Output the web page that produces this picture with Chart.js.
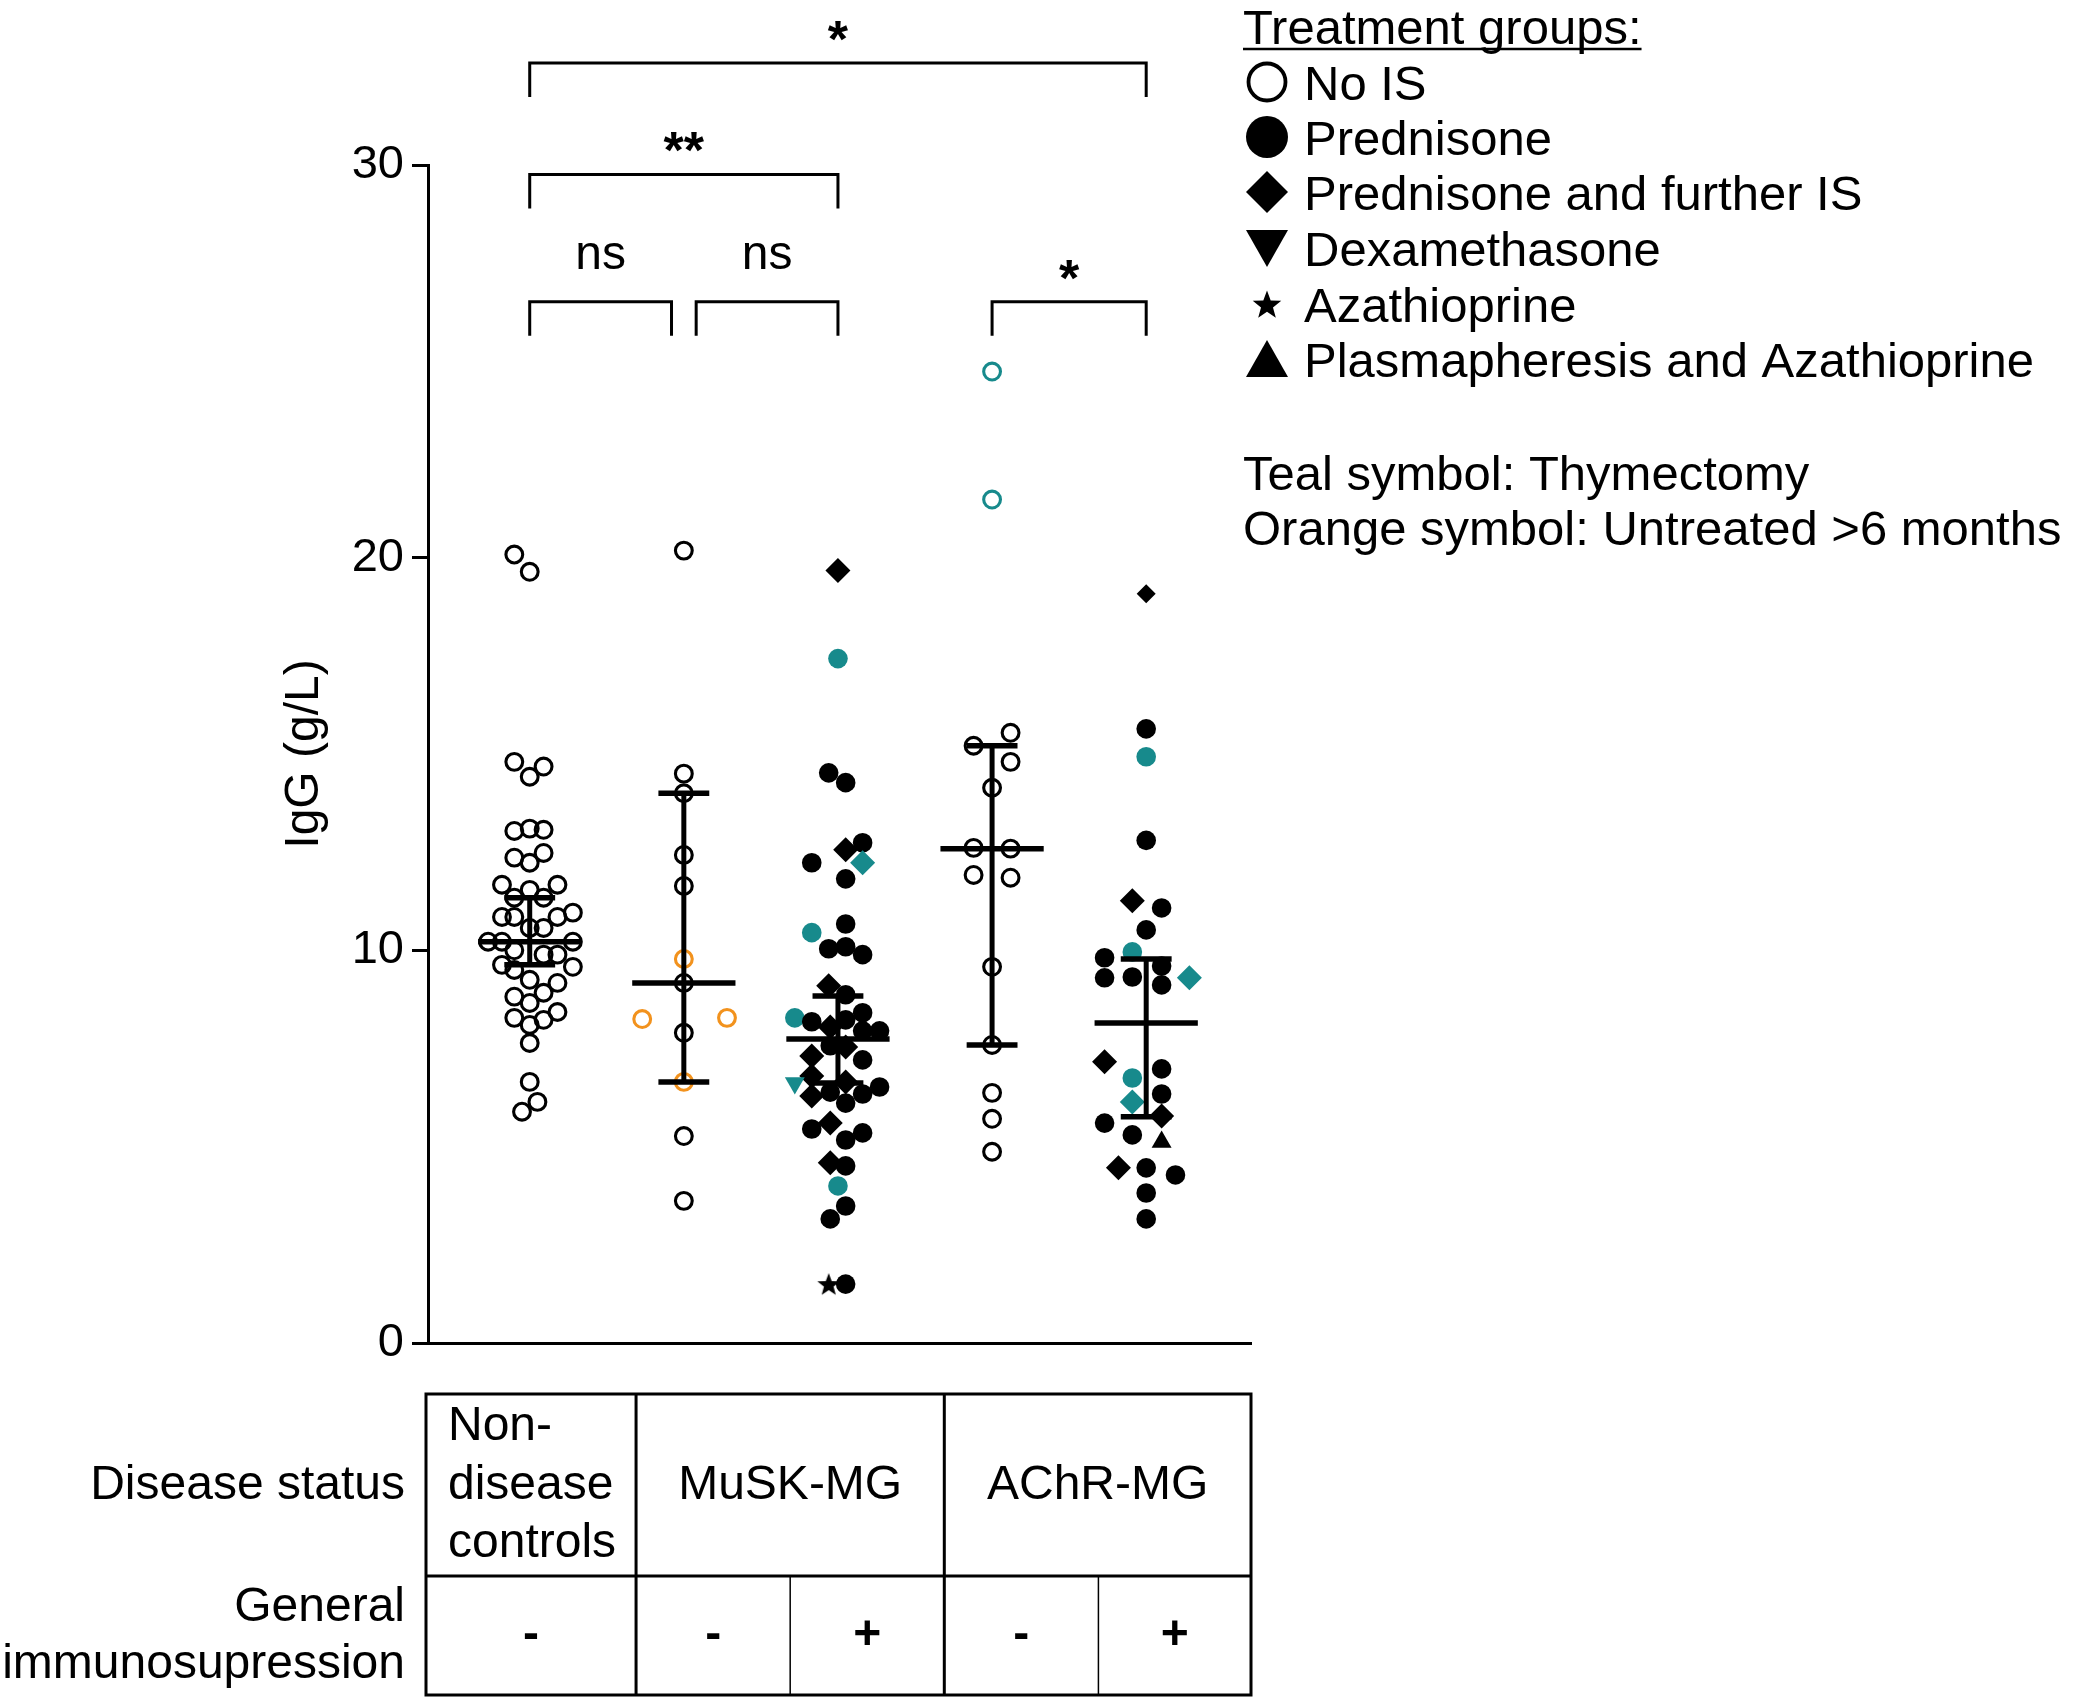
<!DOCTYPE html>
<html>
<head>
<meta charset="utf-8">
<script src="https://cdn.jsdelivr.net/npm/chart.js@4.4.1/dist/chart.umd.min.js"></script>
<style>
  html, body { margin: 0; padding: 0; background: #fff; }
  canvas { display: block; }
</style>
</head>
<body>
<canvas id="chart" width="2080" height="1705"></canvas>
<script>
// Groups on the x axis (1..5)
const groupNames = ['Non-disease controls', 'MuSK-MG -', 'MuSK-MG +', 'AChR-MG -', 'AChR-MG +'];

// IgG values (g/L), with horizontal jitter (in group units)
// symbols: o open circle, c circle, d diamond, m small diamond, v triangle down, t triangle up, s star
// colours: k black, t teal, o orange
const ctrlIgG = [20.08, 19.64, 14.80, 14.68, 14.42, 13.04, 13.10, 13.07, 12.36, 12.48, 12.23, 11.67, 11.54, 11.67, 11.34, 11.34, 10.85, 10.85, 10.85, 10.96, 10.57, 10.57, 10.22, 10.22, 10.22, 10.00, 9.89, 9.89, 9.63, 9.50, 9.58, 9.25, 9.17, 8.82, 8.92, 8.66, 8.43, 8.28, 8.23, 8.10, 7.64, 6.65, 6.14, 5.89];
const ctrlJitter = [-0.10, 0, -0.10, 0.09, 0, -0.10, 0, 0.09, -0.10, 0.09, 0, -0.18, 0, 0.18, -0.10, 0.09, -0.18, -0.10, 0.18, 0.28, 0, 0.09, -0.27, -0.18, 0.28, -0.10, 0.09, 0.18, -0.18, -0.10, 0.28, 0, 0.18, -0.10, 0.09, 0, 0.18, -0.10, 0.09, 0, 0, 0, 0.05, -0.05];
const ctrlSymbols = 'oooooooooooooooooooooooooooooooooooooooooooo';
const ctrlColours = 'kkkkkkkkkkkkkkkkkkkkkkkkkkkkkkkkkkkkkkkkkkkk';

const muskNoIgG = [20.18, 14.50, 14.00, 12.43, 11.64, 9.78, 9.17, 8.25, 8.28, 7.90, 6.65, 5.27, 3.62];
const muskNoJitter = [0, 0, 0, 0, 0, 0, 0, -0.27, 0.28, 0, 0, 0, 0];
const muskNoSymbols = 'ooooooooooooo';
const muskNoColours = 'kkkkkokookokk';

const muskIsIgG = [19.67, 17.43, 14.52, 14.27, 12.23, 12.56, 12.74, 12.23, 11.82, 10.45, 10.67, 10.04, 10.09, 9.89, 9.10, 8.87, 8.28, 8.18, 8.05, 8.23, 8.41, 7.95, 7.95, 7.57, 7.54, 7.31, 7.21, 6.80, 6.62, 6.65, 6.52, 6.29, 6.39, 6.34, 6.11, 5.60, 5.45, 5.35, 5.17, 4.59, 4.51, 4.00, 3.49, 3.16, 1.50, 1.50];
const muskIsJitter = [0, 0, -0.06, 0.05, -0.17, 0.05, 0.16, 0.16, 0.05, -0.17, 0.05, -0.06, 0.05, 0.16, -0.06, 0.05, -0.28, -0.17, -0.05, 0.05, 0.16, 0.16, 0.27, -0.05, 0.05, -0.17, 0.16, -0.17, -0.28, 0.05, 0.27, -0.17, -0.05, 0.16, 0.05, -0.05, -0.17, 0.16, 0.05, -0.05, 0.05, 0, 0.05, -0.05, -0.06, 0.05];
const muskIsSymbols = 'dccccdcdccccccdcccdcccccddcdvdcdcccdcccdccccsc';
const muskIsColours = 'ktkkkkktktkkkkkktkkkkkkkkkkktkkkkkkkkkkkktkkkk';

const achrNoIgG = [24.74, 21.48, 15.54, 15.21, 14.80, 14.14, 12.61, 12.59, 11.92, 11.85, 9.58, 7.59, 6.37, 5.71, 4.87];
const achrNoJitter = [0, 0, 0.12, -0.12, 0.12, 0, -0.12, 0.12, -0.12, 0.12, 0, 0, 0, 0, 0];
const achrNoSymbols = 'ooooooooooooooo';
const achrNoColours = 'ttkkkkkkkkkkkkk';

const achrIsIgG = [19.08, 15.64, 14.93, 12.80, 11.26, 11.08, 10.52, 9.96, 9.81, 9.60, 9.30, 9.32, 9.12, 9.30, 7.16, 6.98, 6.75, 6.34, 6.14, 5.78, 5.60, 5.30, 5.12, 4.46, 4.46, 4.28, 3.82, 3.16];
const achrIsJitter = [0, 0, 0, 0, -0.09, 0.10, 0, -0.09, -0.27, 0.10, -0.27, -0.09, 0.10, 0.28, -0.27, 0.10, -0.09, 0.10, -0.09, 0.10, -0.27, -0.09, 0.10, -0.18, 0, 0.19, 0, 0];
const achrIsSymbols = 'mcccdccccccccddcccddcctdcccc';
const achrIsColours = 'kktkkkktkkkkktkktktkkkkkkkkk';

// Summary line and error bar per group
const centreLine = [10.22, 9.17, 7.74, 12.59, 8.15];
const barLow = [9.63, 6.65, 6.62, 7.59, 5.76];
const barHigh = [11.34, 14.00, 8.84, 15.21, 9.78];

// Significance brackets (x in group units, y in g/L)
const bracketFrom = [1, 1, 1, 2.08, 4];
const bracketTo = [5, 3, 1.92, 3, 5];
const bracketAt = [32.6, 29.76, 26.52, 26.52, 26.52];
const bracketText = ['*', '**', 'ns', 'ns', '*'];

// Legend and table texts
const legendTitle = 'Treatment groups:';
const legendLabels = ['No IS', 'Prednisone', 'Prednisone and further IS', 'Dexamethasone', 'Azathioprine', 'Plasmapheresis and Azathioprine'];
const legendSymbols = 'ocdvst';
const noteLabels = ['Teal symbol: Thymectomy', 'Orange symbol: Untreated >6 months'];
const statusLabels = [['Non-', 'disease', 'controls'], ['MuSK-MG'], ['AChR-MG']];
const immunoLabels = ['-', '-', '+', '-', '+'];

const FONT = "'Liberation Sans', Arial, sans-serif";
const TEAL = '#178a8c';
const ORANGE = '#f2921d';
const colourOf = { k: '#000000', t: TEAL, o: ORANGE };

// Estrela preenchida
function drawStar(ctx, cx, cy, r, fill) {
  ctx.beginPath();
  for (let i = 0; i < 10; i++) {
    const rad = i % 2 === 0 ? r : r * 0.42;
    const a = -Math.PI / 2 + i * Math.PI / 5;
    const px = cx + rad * Math.cos(a);
    const py = cy + rad * Math.sin(a);
    if (i === 0) ctx.moveTo(px, py); else ctx.lineTo(px, py);
  }
  ctx.closePath();
  ctx.fillStyle = fill;
  ctx.fill();
}

const starImg = document.createElement('canvas');
starImg.width = 26;
starImg.height = 26;
drawStar(starImg.getContext('2d'), 13, 14, 12, '#000');

const styleOf = {
  o: { style: 'circle', radius: 8.4, rotation: 0 },
  c: { style: 'circle', radius: 9.8, rotation: 0 },
  d: { style: 'rectRot', radius: 12.5, rotation: 0 },
  m: { style: 'rectRot', radius: 9.5, rotation: 0 },
  v: { style: 'triangle', radius: 11.5, rotation: 180 },
  t: { style: 'triangle', radius: 11.5, rotation: 0 },
  s: { style: starImg, radius: 10, rotation: 0 }
};

function buildDataset(i, values, jitter, symbols, colours) {
  const sym = symbols.split('');
  const col = colours.split('');
  return {
    label: groupNames[i],
    data: values.map((v, j) => ({ x: i + 1 + jitter[j], y: v })),
    pointStyle: sym.map(s => styleOf[s].style),
    pointRadius: sym.map(s => styleOf[s].radius),
    pointRotation: sym.map(s => styleOf[s].rotation),
    pointBackgroundColor: sym.map((s, j) => s === 'o' ? 'rgba(0,0,0,0)' : colourOf[col[j]]),
    pointBorderColor: col.map(c => colourOf[c]),
    pointBorderWidth: sym.map(s => s === 'o' ? 3.1 : 0),
    showLine: false
  };
}

const datasets = [
  buildDataset(0, ctrlIgG, ctrlJitter, ctrlSymbols, ctrlColours),
  buildDataset(1, muskNoIgG, muskNoJitter, muskNoSymbols, muskNoColours),
  buildDataset(2, muskIsIgG, muskIsJitter, muskIsSymbols, muskIsColours),
  buildDataset(3, achrNoIgG, achrNoJitter, achrNoSymbols, achrNoColours),
  buildDataset(4, achrIsIgG, achrIsJitter, achrIsSymbols, achrIsColours)
];

// Linha central + barras de erro
const summaryPlugin = {
  id: 'summary',
  afterDatasetsDraw(chart) {
    const { ctx, scales: { x, y } } = chart;
    ctx.save();
    ctx.strokeStyle = '#000';
    ctx.lineCap = 'butt';
    const hline = (g, v, half) => {
      ctx.beginPath();
      ctx.moveTo(x.getPixelForValue(g - half), y.getPixelForValue(v));
      ctx.lineTo(x.getPixelForValue(g + half), y.getPixelForValue(v));
      ctx.stroke();
    };
    centreLine.forEach((m, i) => {
      const g = i + 1;
      ctx.lineWidth = 5;
      ctx.beginPath();
      ctx.moveTo(x.getPixelForValue(g), y.getPixelForValue(barLow[i]));
      ctx.lineTo(x.getPixelForValue(g), y.getPixelForValue(barHigh[i]));
      ctx.stroke();
      ctx.lineWidth = 5.5;
      hline(g, m, 0.335);
      hline(g, barLow[i], 0.165);
      hline(g, barHigh[i], 0.165);
    });
    ctx.restore();
  }
};

// Colchetes, legenda e tabela
const extrasPlugin = {
  id: 'extras',
  afterDraw(chart) {
    const { ctx, scales: { x, y } } = chart;
    ctx.save();
    ctx.fillStyle = '#000';
    ctx.strokeStyle = '#000';

    // brackets
    ctx.lineWidth = 3;
    bracketFrom.forEach((from, i) => {
      const x1 = x.getPixelForValue(from);
      const x2 = x.getPixelForValue(bracketTo[i]);
      const yTop = y.getPixelForValue(bracketAt[i]);
      const yEnd = y.getPixelForValue(bracketAt[i] - 0.87);
      ctx.beginPath();
      ctx.moveTo(x1, yEnd);
      ctx.lineTo(x1, yTop);
      ctx.lineTo(x2, yTop);
      ctx.lineTo(x2, yEnd);
      ctx.stroke();
      const isStar = bracketText[i].indexOf('*') >= 0;
      ctx.font = isStar ? `bold 52px ${FONT}` : `48px ${FONT}`;
      ctx.textAlign = 'center';
      ctx.textBaseline = 'alphabetic';
      ctx.fillText(bracketText[i], (x1 + x2) / 2, yTop - (isStar ? 6 : 33));
    });

    // legend
    const LX = 1243, SX = 1267, TX = 1304;
    ctx.textAlign = 'left';
    ctx.textBaseline = 'alphabetic';
    ctx.font = `49px ${FONT}`;
    ctx.fillText(legendTitle, LX, 44);
    ctx.lineWidth = 2.5;
    ctx.beginPath();
    ctx.moveTo(LX, 49);
    ctx.lineTo(LX + ctx.measureText(legendTitle).width, 49);
    ctx.stroke();

    const rowY = [82, 137, 192, 248, 304, 359];
    legendLabels.forEach((lab, i) => {
      const cy = rowY[i];
      const s = legendSymbols[i];
      ctx.beginPath();
      if (s === 'o') {
        ctx.lineWidth = 3.8;
        ctx.arc(SX, cy, 18.5, 0, Math.PI * 2);
        ctx.stroke();
      } else if (s === 'c') {
        ctx.arc(SX, cy, 21, 0, Math.PI * 2);
        ctx.fill();
      } else if (s === 'd') {
        ctx.moveTo(SX - 21, cy);
        ctx.lineTo(SX, cy - 21);
        ctx.lineTo(SX + 21, cy);
        ctx.lineTo(SX, cy + 21);
        ctx.closePath();
        ctx.fill();
      } else if (s === 'v') {
        ctx.moveTo(SX - 21, cy - 18);
        ctx.lineTo(SX + 21, cy - 18);
        ctx.lineTo(SX, cy + 19);
        ctx.closePath();
        ctx.fill();
      } else if (s === 't') {
        ctx.moveTo(SX - 21, cy + 18);
        ctx.lineTo(SX + 21, cy + 18);
        ctx.lineTo(SX, cy - 19);
        ctx.closePath();
        ctx.fill();
      } else if (s === 's') {
        drawStar(ctx, SX, cy + 1.5, 15, '#000');
      }
      ctx.fillStyle = '#000';
      ctx.fillText(lab, TX, cy + 17.5);
    });
    ctx.fillText(noteLabels[0], LX, 472 + 17.5);
    ctx.fillText(noteLabels[1], LX, 527 + 17.5);

    // table
    const top = 1394, mid = 1576, bottom = 1695;
    const left = x.left - 2, right = x.right;
    const cut = [1, 2, 3, 4].map(g => x.getPixelForValue(g + 0.69));
    ctx.lineWidth = 3;
    ctx.strokeRect(left, top, right - left, bottom - top);
    ctx.beginPath();
    ctx.moveTo(left, mid); ctx.lineTo(right, mid);
    ctx.moveTo(cut[0], top); ctx.lineTo(cut[0], bottom);
    ctx.moveTo(cut[2], top); ctx.lineTo(cut[2], bottom);
    ctx.stroke();
    ctx.lineWidth = 1.5;
    ctx.beginPath();
    ctx.moveTo(cut[1], mid); ctx.lineTo(cut[1], bottom);
    ctx.moveTo(cut[3], mid); ctx.lineTo(cut[3], bottom);
    ctx.stroke();

    ctx.font = `48px ${FONT}`;
    ctx.textAlign = 'right';
    ctx.fillText('Disease status', 405, 1499);
    ctx.fillText('General', 405, 1621);
    ctx.fillText('immunosupression', 405, 1678);

    ctx.textAlign = 'left';
    statusLabels[0].forEach((t, k) => ctx.fillText(t, left + 22, 1440 + k * 58.5));
    ctx.textAlign = 'center';
    ctx.fillText(statusLabels[1][0], (cut[0] + cut[2]) / 2, 1499);
    ctx.fillText(statusLabels[2][0], (cut[2] + right) / 2, 1499);

    const colEdges = [left, cut[0], cut[1], cut[2], cut[3], right];
    ctx.font = `bold 48px ${FONT}`;
    ctx.textBaseline = 'middle';
    immunoLabels.forEach((t, i) => {
      ctx.fillText(t, (colEdges[i] + colEdges[i + 1]) / 2, 1636);
    });
    ctx.restore();
  }
};

new Chart(document.getElementById('chart'), {
  type: 'scatter',
  data: { datasets },
  options: {
    responsive: false,
    devicePixelRatio: 1,
    animation: false,
    events: [],
    layout: { padding: { left: 272, top: 165, right: 829, bottom: 362 } },
    plugins: {
      legend: { display: false },
      tooltip: { enabled: false }
    },
    scales: {
      x: {
        type: 'linear',
        min: 0.34,
        max: 5.68,
        ticks: { display: false },
        grid: { display: false },
        border: { display: true, color: '#000', width: 3 },
        afterFit: (s) => { s.height = 0; }
      },
      y: {
        min: 0,
        max: 30,
        ticks: { stepSize: 10, color: '#000', padding: 8, font: { family: FONT, size: 47 } },
        grid: { display: true, drawOnChartArea: false, drawTicks: true, tickLength: 16, color: '#000', lineWidth: 3 },
        border: { display: true, color: '#000', width: 3 },
        title: { display: true, text: 'IgG (g/L)', color: '#000', font: { family: FONT, size: 48 } },
        afterFit: (s) => { s.width = 428 - 272; }
      }
    }
  },
  plugins: [summaryPlugin, extrasPlugin]
});
</script>
</body>
</html>
